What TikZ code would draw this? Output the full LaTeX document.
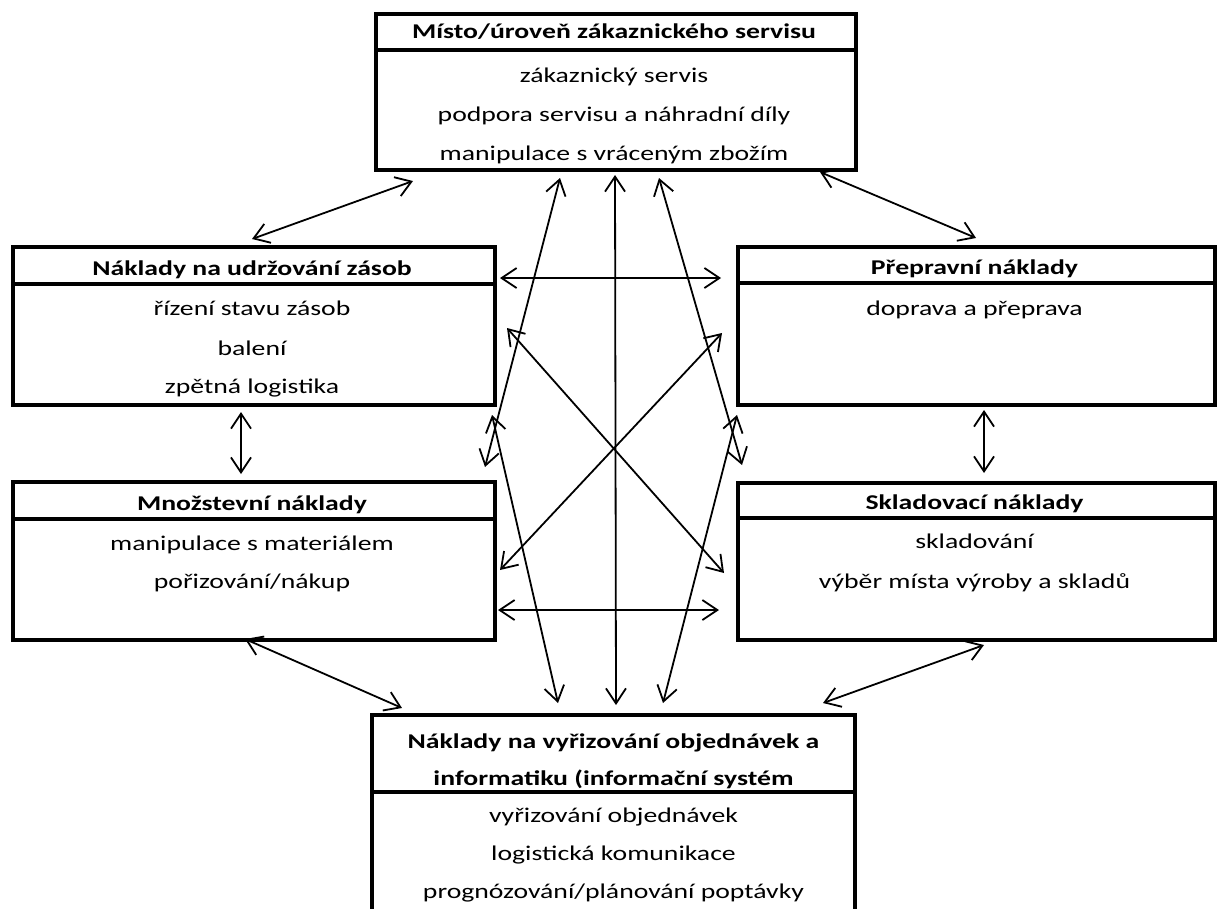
\documentclass[tikz,border=0pt]{standalone}
\usepackage{fontspec}
\setmainfont{Carlito}[FakeStretch=1.32]
\usetikzlibrary{arrows.meta}
\begin{document}
\begin{tikzpicture}[x=1pt,y=-1pt,
  boxline/.style={line width=3.5pt, line join=miter},
  boxnode/.style={draw, line width=3.5pt, inner sep=0pt, anchor=north west},
  conn/.style={line width=1.8pt, {Straight Barb[length=15pt,width=20pt]}-{Straight Barb[length=15pt,width=20pt]}},
  hd/.style={anchor=base, inner sep=0pt, font=\fontsize{21}{26}\selectfont\bfseries},
  tx/.style={anchor=base, inner sep=0pt, font=\fontsize{21}{26}\selectfont}]
\useasboundingbox (0,0) rectangle (1225,908);

% ---- boxes ----
\node[boxnode, minimum width=480pt, minimum height=156pt] (T) at (374,12) {};
\draw[boxline] (374,50) -- (854,50);
\node[boxnode, minimum width=482pt, minimum height=158pt] (L1) at (11,245) {};
\draw[boxline] (11,284) -- (493,284);
\node[boxnode, minimum width=482pt, minimum height=158pt] (L2) at (11,480) {};
\draw[boxline] (11,519) -- (493,519);
\node[boxnode, minimum width=477pt, minimum height=158pt] (R1) at (736,245) {};
\draw[boxline] (736,283) -- (1213,283);
\node[boxnode, minimum width=477pt, minimum height=157pt] (R2) at (736,481) {};
\draw[boxline] (736,518) -- (1213,518);
\draw[boxline] (372,910) -- (372,715) -- (855,715) -- (855,910);
\draw[boxline] (372,792) -- (855,792);

% ---- texts ----
\node[hd] (th) at (614,38.5) {Místo/úroveň zákaznického servisu};
\node[tx] (t1) at (614,82) {zákaznický servis};
\node[tx] (t2) at (614,121.5) {podpora servisu a náhradní díly};
\node[tx] (t3) at (614,160.5) {manipulace s vráceným zbožím};

\node[hd] (l1h) at (252,275) {Náklady na udržování zásob};
\node[tx] (l11) at (252,315.5) {řízení stavu zásob};
\node[tx] (l12) at (252,355) {balení};
\node[tx] (l13) at (252,393.5) {zpětná logistika};

\node[hd] (l2h) at (252,510) {Množstevní náklady};
\node[tx] (l21) at (252,550) {manipulace s materiálem};
\node[tx] (l22) at (252,588.5) {pořizování/nákup};

\node[hd] (r1h) at (974.5,274) {Přepravní náklady};
\node[tx] (r11) at (974.5,315) {doprava a přeprava};

\node[hd] (r2h) at (974.5,509) {Skladovací náklady};
\node[tx] (r21) at (974.5,548) {skladování};
\node[tx] (r22) at (974.5,588) {výběr místa výroby a skladů};

\node[hd] (bh1) at (613.5,748) {Náklady na vyřizování objednávek a};
\node[hd] (bh2) at (613.5,785) {informatiku (informační systém};
\node[tx] (b1) at (613.5,822) {vyřizování objednávek};
\node[tx] (b2) at (613.5,860) {logistická komunikace};
\node[tx] (b3) at (613.5,898) {prognózování/plánování poptávky};

% ---- connector end points ----
\coordinate (a1) at (252,239);  \coordinate (a2) at (413,181);
\coordinate (b1c) at (820,172); \coordinate (b2c) at (976,238);
\coordinate (c1) at (500,278);  \coordinate (c2) at (721,278);
\coordinate (d1) at (498,610);  \coordinate (d2) at (719,610);
\coordinate (e1) at (241,412);  \coordinate (e2) at (241,474);
\coordinate (f1) at (984,410);  \coordinate (f2) at (984,473);
\coordinate (g1) at (245,639);  \coordinate (g2) at (402,708);
\coordinate (h1) at (984,645);  \coordinate (h2) at (823,703);
\coordinate (i1) at (507,328);  \coordinate (i2) at (724,573);
\coordinate (j1) at (722,333);  \coordinate (j2) at (500,570);
\coordinate (k1) at (615,175);  \coordinate (k2) at (616,705);
\coordinate (m1) at (560,178);  \coordinate (m2) at (485,467);
\coordinate (n1) at (492,415);  \coordinate (n2) at (558,703);
\coordinate (p1) at (659,178);  \coordinate (p2) at (742,465);
\coordinate (q1) at (737,415);  \coordinate (q2) at (663,703);

% ---- connectors ----
\foreach \s/\e in {a1/a2,b1c/b2c,c1/c2,d1/d2,e1/e2,f1/f2,g1/g2,h1/h2,i1/i2,j1/j2,k1/k2,m1/m2,n1/n2,p1/p2,q1/q2}
  \draw[conn] (\s) -- (\e);
\end{tikzpicture}
\end{document}
